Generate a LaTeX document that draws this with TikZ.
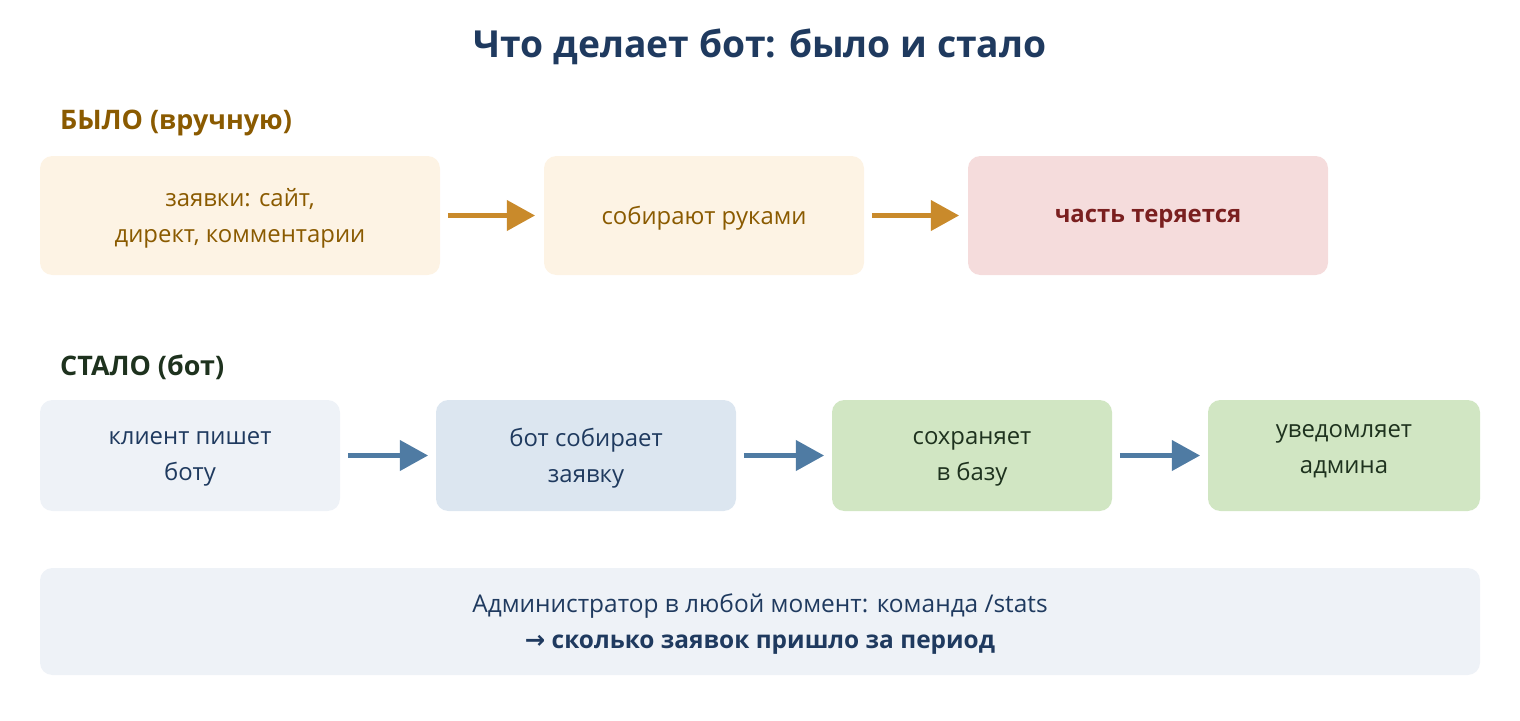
\documentclass[tikz,border=0pt]{standalone}
\usepackage{fontspec}
\setmainfont{Open Sans}
\newfontfamily\arrowfont{DejaVu Sans}
\usetikzlibrary{positioning,arrows.meta}
\definecolor{titleblue}{HTML}{1F3A5F}
\definecolor{wasbrown}{HTML}{8A5A00}
\definecolor{wasfill}{HTML}{FDF3E4}
\definecolor{lostfill}{HTML}{F5DCDC}
\definecolor{lostred}{HTML}{7A1F1F}
\definecolor{wasarrow}{HTML}{C98A2B}
\definecolor{nowgreen}{HTML}{1E321E}
\definecolor{nowpale}{HTML}{EEF2F7}
\definecolor{nowblue}{HTML}{DCE6F0}
\definecolor{nowfill}{HTML}{D1E6C3}
\definecolor{nowarrow}{HTML}{4F7BA3}
\tikzset{
  px/.style={x=0.02cm,y=-0.02cm},
  step box/.style={inner sep=0pt,align=center,yshift=-3*0.567pt,
    font=\fontsize{13.6}{20.4}\selectfont},
  old box/.style={step box,text=wasbrown},
  head label/.style={anchor=west,font=\fontsize{15.3}{18}\selectfont\bfseries},
  flow arrow/.style={line width=2.5pt,-{Triangle[length=16pt,width=17pt]}}
}
\newcommand{\boxat}[6]{% style, name, x1, y1, x2, y2
  \path[#1] (#3,#4) rectangle (#5,#6);
  \coordinate (#2) at ({(#3+#5)/2},{(#4+#6)/2});
  \coordinate (#2-w) at (#3,{(#4+#6)/2});
  \coordinate (#2-e) at (#5,{(#4+#6)/2});}
\begin{document}
\begin{tikzpicture}[px]
  \useasboundingbox (0,0) rectangle (1520,720);
  \node (title) [text=titleblue,font=\fontsize{21.2}{25}\selectfont\bfseries] at (760,47) {Что делает бот: было и стало};

  % before
  \node (was) [head label,text=wasbrown] at (54,123) {БЫЛО (вручную)};
  \boxat{fill=wasfill,rounded corners=7pt}{inbox}{40}{156}{440}{275}
  \boxat{fill=wasfill,rounded corners=7pt}{collect}{544}{156}{864}{275}
  \boxat{fill=lostfill,rounded corners=7pt}{lost}{968}{156}{1328}{275}
  \node (inbox text) [old box] at (inbox) {заявки: сайт,\\директ, комментарии};
  \node (collect text) [old box] at (collect) {собирают руками};
  \node (lost text) [step box,text=lostred,font=\fontsize{13.6}{16}\selectfont\bfseries] at (lost) {часть теряется};
  \draw[flow arrow,wasarrow] ([xshift=8*0.567pt]inbox-e) -- ([xshift=-9*0.567pt]collect-w);
  \draw[flow arrow,wasarrow] ([xshift=8*0.567pt]collect-e) -- ([xshift=-9*0.567pt]lost-w);

  % after
  \node (now) [head label,text=nowgreen] at (54,367) {СТАЛО (бот)};
  \boxat{fill=nowpale,rounded corners=7pt}{client}{40}{400}{340}{511}
  \boxat{fill=nowblue,rounded corners=7pt}{bot}{436}{400}{736}{511}
  \boxat{fill=nowfill,rounded corners=7pt}{save}{832}{400}{1112}{511}
  \boxat{fill=nowfill,rounded corners=7pt}{notify}{1208}{400}{1480}{511}
  \node (client text) [step box,text=titleblue] at (client) {клиент пишет\\боту};
  \node (bot text) [step box,text=titleblue] at (bot) {бот собирает\\заявку};
  \node (save text) [step box,text=nowgreen] at (save) {сохраняет\\в базу};
  \node (notify text) [step box,text=nowgreen] at ([yshift=7*0.567pt]notify) {уведомляет\\админа};
  \draw[flow arrow,nowarrow] ([xshift=8*0.567pt]client-e) -- ([xshift=-8*0.567pt]bot-w);
  \draw[flow arrow,nowarrow] ([xshift=8*0.567pt]bot-e) -- ([xshift=-8*0.567pt]save-w);
  \draw[flow arrow,nowarrow] ([xshift=8*0.567pt]save-e) -- ([xshift=-8*0.567pt]notify-w);

  % stats
  \boxat{fill=nowpale,rounded corners=7pt}{stats}{40}{568}{1480}{675}
  \node (stats text) [step box,text=titleblue,font=\fontsize{13.9}{20.4}\selectfont] at (stats)
    {Администратор в любой момент: команда /stats\\\textbf{{\arrowfont →} сколько заявок пришло за период}};
\end{tikzpicture}
\end{document}
